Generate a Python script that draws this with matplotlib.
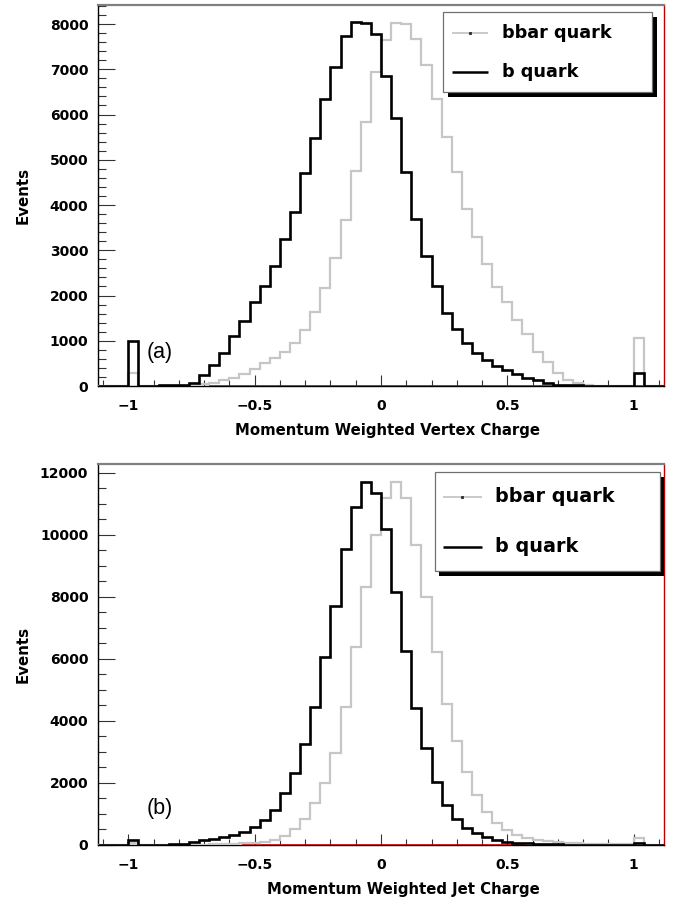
import numpy as np
import matplotlib
matplotlib.use("Agg")
import matplotlib.pyplot as plt
from matplotlib.ticker import MultipleLocator, FuncFormatter
from matplotlib.patches import Rectangle

# ---------------- data ----------------
# 56 bins of width 0.04 spanning -1.12 .. 1.12
bin_lo, bin_hi, n_bins = -1.12, 1.12, 56

vertex_b = [0, 0, 0, 990, 0, 0, 20, 20, 25, 75,
            250, 470, 740, 1100, 1430, 1860, 2200, 2650, 3240, 3850,
            4700, 5470, 6340, 7050, 7740, 8050, 8020, 7770, 6850, 5920,
            4720, 3690, 2870, 2210, 1620, 1250, 960, 740, 570, 440,
            350, 260, 180, 125, 75, 30, 20, 15, 5, 5,
            5, 5, 5, 280, 0, 0]
vertex_bbar = [0, 0, 0, 280, 0, 0, 0, 5, 5, 10,
               35, 70, 130, 180, 260, 370, 500, 610, 755, 940,
               1235, 1640, 2160, 2820, 3670, 4760, 5830, 6950, 7650, 8030,
               8010, 7660, 7090, 6340, 5510, 4720, 3920, 3300, 2690, 2190,
               1860, 1455, 1160, 760, 535, 280, 130, 60, 20, 10,
               10, 5, 5, 1050, 0, 0]

jet_b = [0, 0, 0, 170, 0, 0, 5, 20, 40, 85,
         150, 190, 250, 330, 430, 580, 820, 1120, 1675, 2320,
         3240, 4435, 6070, 7710, 9525, 10900, 11690, 11350, 10190, 8170,
         6250, 4425, 3130, 2030, 1300, 845, 550, 375, 245, 160,
         108, 75, 50, 35, 25, 20, 15, 10, 10, 10,
         10, 10, 10, 75, 0, 0]
jet_bbar = [0, 0, 0, 50, 0, 0, 0, 0, 5, 10,
            15, 20, 30, 40, 55, 70, 90, 170, 290, 515,
            840, 1350, 2000, 2960, 4460, 6390, 8320, 9990, 11170, 11700,
            11170, 9670, 8000, 6230, 4540, 3360, 2360, 1610, 1070, 720,
            480, 320, 215, 160, 120, 90, 70, 50, 40, 30,
            25, 20, 20, 215, 0, 0]

series_labels = ["bbar quark", "b quark"]
x_titles = ["Momentum Weighted Vertex Charge", "Momentum Weighted Jet Charge"]
y_title = "Events"
panel_tags = ["(a)", "(b)"]
y_max = [8420, 12280]
y_major = [1000, 2000]
y_minor = [200, 500]
red_zero_span = [(-0.68, 1.12), (-0.55, 0.57)]

# ---------------- style ----------------
GRAY = "#c6c6c6"
BLACK = "#000000"
FONT = "DejaVu Sans"

W, H = 676, 905
fig = plt.figure(figsize=(W / 100, H / 100), dpi=100)
fig.patch.set_facecolor("white")

ax_left, ax_right = 98, 664
panels_px = [(5, 386), (464, 845)]

edges = np.linspace(bin_lo, bin_hi, n_bins + 1)

def fmt_x(v, p):
    s = f"{round(v, 3):g}"
    return s.replace("-", "\u2212")

legend_geom = [
    dict(box=(0.6095, 0.7717, 0.9788, 0.9816), ly=(0.9265, 0.824), lx=(0.625, 0.689), tx=0.714, fs=12.7, sh=(5, 5)),
    dict(box=(0.5954, 0.7200, 0.9929, 0.9798), ly=(0.914, 0.783), lx=(0.6095, 0.678), tx=0.7014, fs=13.9, sh=(4, 5)),
]
tag_pos = [(0.1095, 0.089), (0.1095, 0.097)]

data = [(vertex_bbar, vertex_b), (jet_bbar, jet_b)]

for i, (top_px, bot_px) in enumerate(panels_px):
    ax = fig.add_axes([ax_left / W, 1 - bot_px / H, (ax_right - ax_left) / W, (bot_px - top_px) / H])
    bbar, b = data[i]
    ax.stairs(bbar, edges, color=GRAY, lw=1.6, zorder=3)
    ax.stairs(b, edges, color=BLACK, lw=1.9, zorder=4)

    x0, x1 = red_zero_span[i]
    ax.plot([x0, x1], [0, 0], color="#d40000", lw=1.2, zorder=2.8, solid_capstyle="butt")

    ax.set_xlim(bin_lo, bin_hi)
    ax.set_ylim(0, y_max[i])

    # spines
    ax.spines["left"].set_color("black"); ax.spines["left"].set_linewidth(1.0)
    ax.spines["bottom"].set_color("black"); ax.spines["bottom"].set_linewidth(1.0)
    ax.spines["top"].set_color("#808080"); ax.spines["top"].set_linewidth(1.6)
    ax.spines["right"].set_color("#c00000"); ax.spines["right"].set_linewidth(1.0)

    # ticks
    ax.xaxis.set_major_locator(MultipleLocator(0.5))
    ax.xaxis.set_minor_locator(MultipleLocator(0.1))
    ax.yaxis.set_major_locator(MultipleLocator(y_major[i]))
    ax.yaxis.set_minor_locator(MultipleLocator(y_minor[i]))
    ax.xaxis.set_major_formatter(FuncFormatter(fmt_x))
    ax.tick_params(axis="x", which="major", direction="in", length=8, width=0.8, color="#333333",
                   top=False, pad=9.5, labelsize=10)
    ax.tick_params(axis="x", which="minor", direction="in", length=4.3, width=0.8, color="#333333", top=False)
    ax.tick_params(axis="y", which="major", direction="in", length=12.2, width=0.8, color="#333333",
                   right=False, pad=7, labelsize=10)
    ax.tick_params(axis="y", which="minor", direction="in", length=5.8, width=0.8, color="#333333", right=False)
    for lab in ax.get_xticklabels() + ax.get_yticklabels():
        lab.set_fontweight("bold")
        lab.set_fontfamily(FONT)

    ax.set_xlabel(x_titles[i], fontsize=10.7, fontweight="bold", fontfamily=FONT)
    ax.xaxis.label.set_ha("right")
    ax.xaxis.label.set_va("center")
    ax.xaxis.set_label_coords(0.781, -0.118)
    ax.set_ylabel(y_title, fontsize=10.8, fontweight="bold", fontfamily=FONT)
    ax.yaxis.label.set_va("center")
    ax.yaxis.set_label_coords(-0.1325, 0.5)

    # panel tag
    tx, ty = tag_pos[i]
    ax.text(tx, ty, panel_tags[i], transform=ax.transAxes, fontsize=15.5,
            fontfamily="Liberation Sans", ha="center", va="center", zorder=6)

    # legend (ROOT style with drop shadow)
    g = legend_geom[i]
    bx0, by0, bx1, by1 = g["box"]
    sdx = g["sh"][0] / (ax_right - ax_left)
    sdy = g["sh"][1] / (bot_px - top_px)
    ax.add_patch(Rectangle((bx0 + sdx, by0 - sdy), bx1 - bx0, by1 - by0, transform=ax.transAxes,
                           facecolor="black", edgecolor="none", zorder=8, clip_on=False))
    ax.add_patch(Rectangle((bx0, by0), bx1 - bx0, by1 - by0, transform=ax.transAxes,
                           facecolor="white", edgecolor="#707070", lw=0.9, zorder=9, clip_on=False))
    lx0, lx1 = g["lx"]
    for k, (col, lw) in enumerate([(GRAY, 1.3), (BLACK, 1.8)]):
        yy = g["ly"][k]
        ax.plot([lx0, lx1], [yy, yy], transform=ax.transAxes, color=col, lw=lw, zorder=10,
                clip_on=False, solid_capstyle="butt")
        ax.text(g["tx"], yy, series_labels[k], transform=ax.transAxes, fontsize=g["fs"],
                fontweight="bold", fontfamily=FONT, ha="left", va="center", zorder=10)
    ax.plot([(lx0 + lx1) / 2], [g["ly"][0]], transform=ax.transAxes, marker="s", ms=1.2,
            color="#333333", zorder=11, clip_on=False)

fig.savefig("out.png", dpi=100)
